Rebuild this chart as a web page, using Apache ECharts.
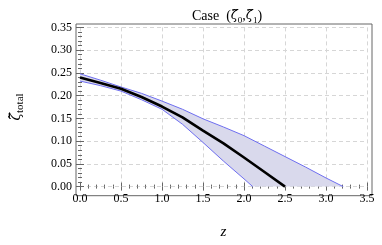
<!DOCTYPE html>
<html>
<head>
<meta charset="utf-8">
<script src="https://cdn.jsdelivr.net/npm/echarts@6/dist/echarts.min.js"></script>
<style>html,body{margin:0;padding:0;background:#fff;}#c{width:382px;height:245px;}</style>
</head>
<body>
<div id="c"></div>
<script>
// ---- data ----
const zCentral = [0, 0.25, 0.5, 0.75, 1.0, 1.25, 1.5, 1.75, 2.0, 2.25, 2.5];
const centralValues = [0.240, 0.228, 0.215, 0.197, 0.176, 0.152, 0.123, 0.095, 0.064, 0.032, 0.0];
const zUpper = [0, 0.25, 0.5, 0.75, 1.0, 1.25, 1.5, 1.75, 2.0, 2.25, 2.5, 2.75, 3.0, 3.21];
const upperValues = [0.248, 0.234, 0.219, 0.205, 0.188, 0.170, 0.149, 0.131, 0.112, 0.089, 0.066, 0.043, 0.019, 0.0];
const zLower = [0, 0.25, 0.5, 0.75, 1.0, 1.25, 1.5, 1.75, 2.0, 2.106];
const lowerValues = [0.232, 0.222, 0.210, 0.191, 0.170, 0.137, 0.097, 0.056, 0.017, 0.0];
const xTicks = [0, 0.5, 1.0, 1.5, 2.0, 2.5, 3.0, 3.5];
const yTicks = [0, 0.05, 0.10, 0.15, 0.20, 0.25, 0.30, 0.35];

const pairs = (xs, ys) => xs.map((x, i) => [x, ys[i]]);
const serif = '"Liberation Serif", "DejaVu Serif", serif';
const greek = '"DejaVu Serif", "Liberation Serif", serif';
const frameColor = '#666666';

const chart = echarts.init(document.getElementById('c'), null, {renderer: 'canvas'});

const tickCommon = {show: true, inside: true, length: 4, lineStyle: {color: frameColor, width: 1}};
const minorCommon = {show: true, splitNumber: 5, length: 2, lineStyle: {color: frameColor, width: 1}};

const option = {
  animation: false,
  backgroundColor: '#fff',
  title: {
    text: '{n|Case  (}{z|ζ̃}{s|0}{n|,}{z|ζ̃}{s|1}{n|)}',
    left: 222, top: 2, textAlign: 'center',
    textStyle: {
      fontWeight: 'normal',
      rich: {
        n: {fontFamily: serif, fontSize: 14, fontWeight: 'normal', color: '#000', lineHeight: 18},
        z: {fontFamily: greek, fontSize: 13, fontWeight: 'normal', fontStyle: 'italic', color: '#000', lineHeight: 18},
        s: {fontFamily: serif, fontSize: 9, fontWeight: 'normal', color: '#000', lineHeight: 18, verticalAlign: 'bottom'}
      }
    }
  },
  grid: [
    {left: 80, right: 15, top: 27.4, bottom: 51.7},
    {left: 76, right: 10, top: 24, bottom: 49.3, show: true, borderColor: frameColor, borderWidth: 1, backgroundColor: 'transparent'}
  ],
  xAxis: [
    {
      type: 'value', gridIndex: 0, min: 0, max: 3.5, interval: 0.5, position: 'bottom', offset: 2.4,
      axisLine: {show: false},
      axisTick: tickCommon, minorTick: minorCommon,
      axisLabel: {show: true, margin: 4, fontFamily: serif, fontSize: 12, color: '#000', formatter: v => v.toFixed(1)},
      splitLine: {show: true, lineStyle: {color: '#d6d6d6', type: [4, 3], width: 1}},
      name: '{i|z}', nameLocation: 'middle', nameGap: 36,
      nameTextStyle: {rich: {i: {fontFamily: serif, fontSize: 15, fontStyle: 'italic', color: '#000'}}}
    },
    {
      type: 'value', gridIndex: 0, min: 0, max: 3.5, interval: 0.5, position: 'top', offset: 3.4,
      axisLine: {show: false}, axisTick: tickCommon, minorTick: minorCommon,
      axisLabel: {show: false}, splitLine: {show: false}
    },
    {type: 'value', gridIndex: 1, min: 0, max: 1, show: false}
  ],
  yAxis: [
    {
      type: 'value', gridIndex: 0, min: 0, max: 0.35, interval: 0.05, position: 'left', offset: 4,
      axisLine: {show: false}, axisTick: tickCommon, minorTick: minorCommon,
      axisLabel: {show: true, margin: 4, fontFamily: serif, fontSize: 12, color: '#000', formatter: v => v.toFixed(2)},
      splitLine: {show: true, lineStyle: {color: '#d6d6d6', type: [4, 3], width: 1}},
      name: '{z|ζ̃}{s|total}', nameLocation: 'middle', nameGap: 50,
      nameTextStyle: {rich: {
        z: {fontFamily: greek, fontSize: 14, fontStyle: 'italic', color: '#000', lineHeight: 20},
        s: {fontFamily: serif, fontSize: 11, color: '#000', lineHeight: 20, verticalAlign: 'bottom'}
      }}
    },
    {
      type: 'value', gridIndex: 0, min: 0, max: 0.35, interval: 0.05, position: 'right', offset: 5,
      axisLine: {show: false}, axisTick: tickCommon, minorTick: minorCommon,
      axisLabel: {show: false}, splitLine: {show: false}
    },
    {type: 'value', gridIndex: 1, min: 0, max: 1, show: false}
  ],
  series: [
    {
      type: 'custom', xAxisIndex: 0, yAxisIndex: 0, silent: true, z: 1,
      data: [0],
      renderItem: function (params, api) {
        const pts = [];
        for (let i = 0; i < zUpper.length; i++) pts.push(api.coord([zUpper[i], upperValues[i]]));
        for (let i = zLower.length - 1; i >= 0; i--) pts.push(api.coord([zLower[i], lowerValues[i]]));
        return {type: 'polygon', shape: {points: pts}, style: {fill: '#d9d9ec', stroke: null}};
      }
    },
    {
      type: 'line', xAxisIndex: 0, yAxisIndex: 0, data: pairs(zUpper, upperValues),
      showSymbol: false, lineStyle: {color: '#6e6ef0', width: 1}, z: 2, silent: true
    },
    {
      type: 'line', xAxisIndex: 0, yAxisIndex: 0, data: pairs(zLower, lowerValues),
      showSymbol: false, lineStyle: {color: '#6e6ef0', width: 1}, z: 2, silent: true
    },
    {
      type: 'line', xAxisIndex: 0, yAxisIndex: 0, data: pairs(zCentral, centralValues),
      showSymbol: false, lineStyle: {color: '#000', width: 2.6}, z: 3, silent: true
    }
  ]
};
chart.setOption(option);
</script>
</body>
</html>
